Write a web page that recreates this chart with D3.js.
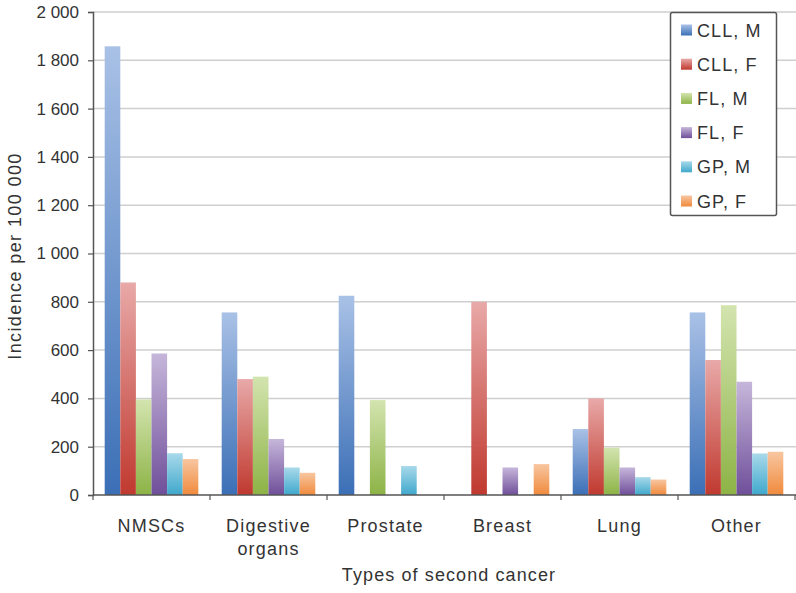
<!DOCTYPE html>
<html><head><meta charset="utf-8">
<script src="https://cdn.jsdelivr.net/npm/d3@7"></script>
<style>body{margin:0;background:#fff}svg{display:block}text{font-family:"Liberation Sans",Arial,sans-serif;fill:#333}</style>
</head><body><svg id="c" width="796" height="593"></svg>
<script>
const categories = [["NMSCs"],["Digestive","organs"],["Prostate"],["Breast"],["Lung"],["Other"]];
const seriesNames = ["CLL, M","CLL, F","FL, M","FL, F","GP, M","GP, F"];
const cllM = [1858, 756, 825, 0, 273, 756];
const cllF = [880, 480, 0, 800, 400, 559];
const flM = [396, 490, 393, 0, 196, 786];
const flF = [586, 232, 0, 114, 114, 469];
const gpM = [173, 114, 120, 0, 74, 172];
const gpF = [149, 92, 0, 128, 64, 179];
const yTicks = [0,200,400,600,800,1000,1200,1400,1600,1800,2000];
const yTickLabels = ["0","200","400","600","800","1 000","1 200","1 400","1 600","1 800","2 000"];
const colorsDark = ["#3b6fb6","#c0392f","#8db346","#6f4f9a","#3fa8cc","#f08a3c"];
const colorsLight = ["#a9c1e6","#e8a9a8","#d3e4af","#c6b6da","#a8d9ea","#f8c6a0"];

const series = [cllM, cllF, flM, flF, gpM, gpF];
const svg = d3.select("#c");
const m = {l:93, r:795, t:12, b:495};
const x0 = d3.scaleBand().domain(d3.range(categories.length)).range([m.l, m.r]).paddingInner(0.2).paddingOuter(0.1);
const x1 = d3.scaleBand().domain(d3.range(seriesNames.length)).range([0, x0.bandwidth()]);
const y = d3.scaleLinear().domain([0,2000]).range([m.b, m.t]);

const defs = svg.append("defs");
seriesNames.forEach((s,i)=>{
  const g = defs.append("linearGradient").attr("id","g"+i).attr("x1",0).attr("y1",0).attr("x2",0).attr("y2",1);
  g.append("stop").attr("offset","0%").attr("stop-color",colorsLight[i]);
  g.append("stop").attr("offset","100%").attr("stop-color",colorsDark[i]);
});

// gridlines
svg.append("g").selectAll("line").data(yTicks.slice(1)).join("line")
  .attr("x1",m.l).attr("x2",796).attr("y1",d=>y(d)).attr("y2",d=>y(d))
  .attr("stroke","#cfcfcf").attr("stroke-width",1.5);

// bars
const gg = svg.append("g").selectAll("g").data(categories).join("g")
  .attr("transform",(d,i)=>`translate(${x0(i)},0)`);
gg.selectAll("rect").data((d,ci)=>series.map((s,si)=>({si, v:s[ci]}))).join("rect")
  .attr("x",d=>x1(d.si)).attr("width",x1.bandwidth())
  .attr("y",d=>y(d.v)).attr("height",d=>y(0)-y(d.v))
  .attr("fill",d=>`url(#g${d.si})`);

// y axis
const ya = svg.append("g").attr("transform",`translate(${m.l},0)`)
  .call(d3.axisLeft(y).tickValues(yTicks).tickFormat((d,i)=>yTickLabels[i]).tickSize(5).tickPadding(9));
ya.select(".domain").attr("stroke","#555").attr("stroke-width",1.5);
ya.selectAll(".tick line").attr("stroke","#555").attr("stroke-width",1.2);
ya.selectAll("text").attr("font-size",17).attr("font-family",null).style("fill","#333");

// x axis
const xa = svg.append("g").attr("transform",`translate(0,${m.b})`);
xa.append("line").attr("x1",m.l).attr("x2",796).attr("stroke","#555").attr("stroke-width",1.5);
const step = x0.step();
const bounds = d3.range(categories.length+1).map(i=> i<categories.length ? x0(i)-x0.paddingInner()*step/2 : x0(i-1)+x0.bandwidth()+x0.paddingInner()*step/2);
xa.selectAll("line.t").data(bounds).join("line").attr("class","t")
  .attr("x1",d=>d).attr("x2",d=>d).attr("y1",0).attr("y2",5).attr("stroke","#555").attr("stroke-width",1.2);
const lab = svg.append("g").selectAll("text").data(categories).join("text")
  .attr("x",(d,i)=>x0(i)+x0.bandwidth()/2).attr("y",532).attr("text-anchor","middle")
  .attr("font-size",18).attr("letter-spacing",1.2);
lab.selectAll("tspan").data(d=>d).join("tspan").attr("x",function(){return this.parentNode.getAttribute("x");})
  .attr("dy",(d,i)=>i?23:0).text(d=>d);

// axis titles
svg.append("text").attr("x",449).attr("y",581).attr("text-anchor","middle").attr("font-size",18)
  .attr("letter-spacing",1.1).text("Types of second cancer");
svg.append("text").attr("transform","translate(21,256) rotate(-90)").attr("text-anchor","middle").attr("font-size",18)
  .attr("letter-spacing",1.4).text("Incidence per 100 000");

// legend
const lg = svg.append("g");
lg.append("rect").attr("x",670.5).attr("y",12.5).attr("width",106).attr("height",203).attr("rx",2)
  .attr("fill","#fff").attr("stroke","#555").attr("stroke-width",1.5);
const li = lg.selectAll("g").data(seriesNames).join("g").attr("transform",(d,i)=>`translate(681,${30+i*34.2})`);
li.append("rect").attr("x",0).attr("y",-5.5).attr("width",11).attr("height",11).attr("fill",(d,i)=>`url(#g${i})`);
li.append("text").attr("x",16).attr("y",6.5).attr("font-size",18).attr("letter-spacing",1.1).text(d=>d);
</script></body></html>
